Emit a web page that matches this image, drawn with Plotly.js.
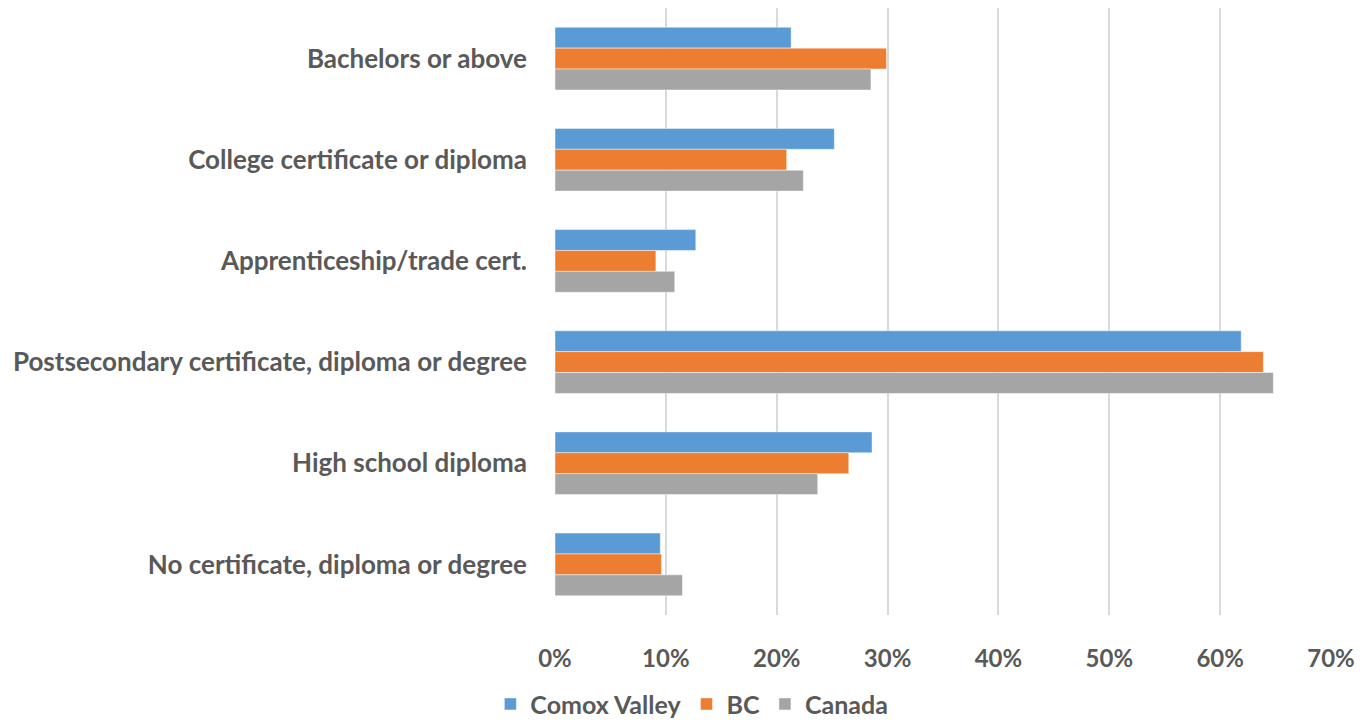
<!DOCTYPE html>
<html>
<head>
<meta charset="utf-8">
<script src="https://cdn.plot.ly/plotly-3.0.1.min.js"></script>
<style>html,body{margin:0;padding:0;background:#fff;}#chart{width:1370px;height:723px;}</style>
</head>
<body>
<div id="chart"></div>
<script>
const categories = [
  "Bachelors or above",
  "College certificate or diploma",
  "Apprenticeship/trade cert.",
  "Postsecondary certificate, diploma or degree",
  "High school diploma",
  "No certificate, diploma or degree"
];
const comoxValley = [0.213, 0.252, 0.127, 0.619, 0.286, 0.095];
const bc = [0.299, 0.209, 0.091, 0.639, 0.265, 0.096];
const canada = [0.285, 0.224, 0.108, 0.648, 0.237, 0.115];
const seriesNames = ["Comox Valley", "BC", "Canada"];
const seriesColors = ["#5B9BD5", "#ED7D31", "#A5A5A5"];
const xTicks = [0, 0.1, 0.2, 0.3, 0.4, 0.5, 0.6, 0.7];
const xTickLabels = ["0%", "10%", "20%", "30%", "40%", "50%", "60%", "70%"];

const FONT = "Lato, 'Open Sans', sans-serif";
const seriesValues = [comoxValley, bc, canada];
const traces = seriesValues.map((vals, i) => ({
  type: "bar",
  orientation: "h",
  name: seriesNames[i],
  y: categories,
  x: vals,
  marker: { color: seriesColors[i], line: { color: "rgba(255,255,255,0.45)", width: 1 } },
  hoverinfo: "x+name"
}));

const layout = {
  width: 1370,
  height: 723,
  margin: { l: 555, r: 39, t: 8, b: 108, autoexpand: false },
  paper_bgcolor: "#ffffff",
  plot_bgcolor: "#ffffff",
  barmode: "group",
  bargap: 0.38,
  bargroupgap: 0,
  font: { family: FONT, color: "#595959" },
  xaxis: {
    range: [0, 0.7],
    tickvals: xTicks,
    ticktext: xTickLabels,
    showgrid: true,
    gridcolor: "#d9d9d9",
    gridwidth: 2,
    zeroline: false,
    showline: false,
    ticks: "",
    ticklabelstandoff: 27,
    tickfont: { family: FONT, size: 24, color: "#595959", weight: "bold" },
    fixedrange: true
  },
  yaxis: {
    autorange: "reversed",
    type: "category",
    showgrid: false,
    zeroline: false,
    showline: false,
    ticks: "",
    ticklabelstandoff: 27,
    tickfont: { family: FONT, size: 26, color: "#595959", weight: "bold" },
    fixedrange: true
  },
  showlegend: true,
  legend: {
    orientation: "h",
    xref: "container",
    yref: "container",
    x: 0.505,
    xanchor: "center",
    y: 0.026,
    yanchor: "middle",
    font: { family: FONT, size: 25, color: "#595959", weight: "bold" },
    itemwidth: 30,
    traceorder: "normal"
  }
};

Plotly.newPlot("chart", traces, layout, { displayModeBar: false, staticPlot: true });
</script>
</body>
</html>
